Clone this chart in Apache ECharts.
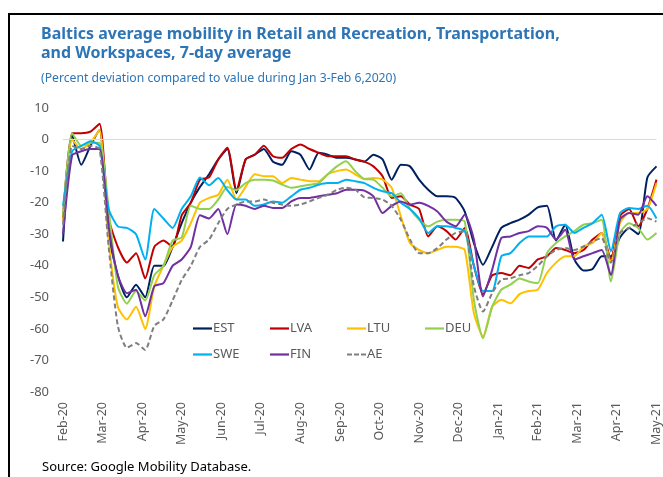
<!DOCTYPE html>
<html lang="en">
<head>
    <meta charset="UTF-8">
    <title>Baltics mobility</title>
	<style>
	html, body { margin: 0; padding: 0; background: #fff; }
	#chart1 { width: 663px; height: 477px; }
	</style>
</head>
<body>
	<div id="chart1"></div>
	<script src="https://cdn.jsdelivr.net/npm/echarts@6/dist/echarts.min.js"></script>
	<script>
	// weekly points, day 0 = 15 Feb 2020, last = 15 May 2021 (day 455)
	var startDate = '2020-02-15';
	var stepDays = 7;
	var monthLabels = ['Feb-20','Mar-20','Apr-20','May-20','Jun-20','Jul-20','Aug-20','Sep-20',
		'Oct-20','Nov-20','Dec-20','Jan-21','Feb-21','Mar-21','Apr-21','May-21'];

	var est = [-32.3,1.5,-8,-2,3,-30,-43,-50,-46,-50,-40,-40,-34,-26.5,-20,-15,-11,-6.3,-3,-17,
		-6.3,-4.8,-3,-7,-8,-3.7,-4.8,-9.5,-4.2,-4.8,-5.8,-5.8,-6.3,-7,-4.8,-6.3,-12.7,-8,-8.5,-12.7,
		-15.9,-18,-18,-18.5,-22.8,-32.8,-39.7,-34,-28,-26.5,-25.4,-23.8,-21.5,-21,-32,-27,-38,-41.5,-41,-37,
		-37,-31,-28,-30,-12,-8.5];
	var lva = [-25,2,2,2.5,5,-25,-34,-39,-36,-44,-34,-32,-34,-24,-20,-12.7,-12,-6.3,-2.6,-16,
		-6.3,-4.8,-2,-5.3,-5.8,-3,-1.6,-3,-4.2,-5.3,-5.3,-5.3,-6.3,-7,-8.5,-11.6,-18.5,-18,-20.6,-22,
		-30.7,-27.5,-29,-31.7,-28,-40,-49,-43,-42.3,-43,-40,-40.7,-38,-37,-34.4,-35,-36,-35,-31.7,-29.6,
		-38,-24.3,-22,-27.5,-22,-12.7];
	var ltu = [-26,0,-3,-1,3,-32,-53,-57,-53,-60,-46.5,-40,-34,-32,-26.5,-20,-18.5,-17.5,-12.7,-19,
		-15,-11,-11.6,-11.6,-13.8,-12.2,-12.7,-13.2,-13.2,-11,-10,-9.5,-11,-12.5,-12.2,-12.7,-15.3,-24.3,-32.8,-35,
		-36,-35,-34,-34,-35,-55,-62.4,-53,-50.8,-51.9,-49,-48,-47.6,-42.3,-39,-37,-37,-33.9,-32.8,-29.6,
		-39,-26.5,-23.3,-23.3,-22,-13.8];
	var deu = [-24,2,-2,-1,-1,-22,-46.5,-52,-48,-51,-43,-40,-32,-31,-21,-22,-22,-19,-15,-16,
		-13.8,-12.7,-12.7,-13,-14.3,-15.3,-14.8,-14.3,-13.8,-11,-8.5,-6.9,-10,-12.5,-12.7,-15.3,-18,-17,-22,-25.4,
		-27.5,-26,-25.4,-25.4,-26,-50.8,-63,-53,-47.6,-46,-44,-45,-45.5,-36,-32.8,-30.7,-29,-27,-26.5,-25.4,
		-45,-29.6,-26.5,-28,-31.7,-29.6];
	var swe = [-21,-3.7,-2,-0.5,-2,-22,-27.5,-28,-30,-38,-22,-25,-28,-22,-18,-12,-14.5,-12.2,-16,-19,
		-19,-21,-20.6,-19.6,-20,-18,-15.9,-15.3,-14.3,-13.8,-13.8,-12.7,-13.2,-13.8,-15.3,-16.4,-17,-20,-22,-25,
		-29.6,-27.5,-27.5,-28,-29,-40,-48,-48,-37,-36,-32.8,-30.7,-30.7,-30.7,-27.5,-27,-29.6,-28,-26.5,-23.8,
		-35.4,-23.3,-21.7,-22,-21,-25];
	var fin = [-30,-5,-3.7,-3,-3,-27.5,-43,-48.7,-47.6,-56,-46.5,-45.5,-40,-38,-34,-24,-25,-22,-30,-20.6,
		-21,-22,-21,-21.7,-21.7,-19.6,-18.5,-18.5,-18,-17.5,-17,-15.9,-15.9,-16.2,-18,-23.3,-21,-19.6,-20.6,-20,
		-21,-22.8,-26,-27.5,-23.8,-31.7,-49.7,-41.3,-31.2,-30.7,-29.6,-29,-27.5,-28,-31.7,-28.6,-38,-37,-36,-35,
		-42.9,-25.4,-23.3,-23.8,-18,-21];
	var ae = [-27,-2,-3,-2,-3,-34,-59,-66,-64.5,-66.7,-59,-57,-51,-44.5,-40,-34,-31.7,-26.5,-22,-20.6,
		-19.6,-19.6,-19,-20,-20.6,-21,-20.6,-19.6,-18.5,-17.5,-15.9,-15.3,-15.9,-18.3,-18.5,-19,-21,-25.4,-31.7,-36,
		-36,-34.4,-31.7,-29.6,-29,-46.5,-54.5,-48.7,-44.4,-44,-43,-42.3,-40,-37,-35,-34.4,-35,-33.9,-32.3,-31.2,
		-39,-29.6,-28,-26.5,-24.9,-26];

	var seriesNames = ['EST','LVA','LTU','DEU','SWE','FIN','AE'];
	var seriesData = [est, lva, ltu, deu, swe, fin, ae];
	var seriesColors = ['#002060','#C00000','#FFC000','#92D050','#00B0F0','#7030A0','#7F7F7F'];

	var totalDays = 455;
	var monthStep = totalDays / (monthLabels.length - 1);

	function toPairs(values)
	{
		return values.map(function (v, i) { return [i * stepDays, v]; });
	}

	var series = seriesNames.map(function (name, i) {
		var s = {
			name: name,
			type: 'line',
			data: toPairs(seriesData[i]),
			symbol: 'none',
			smooth: 0.2,
			lineStyle: { color: seriesColors[i], width: 2, type: name === 'AE' ? [5, 3] : 'solid' },
			itemStyle: { color: seriesColors[i] }
		};
		if (i === 0) {
			s.markLine = {
				silent: true,
				symbol: 'none',
				label: { show: false },
				lineStyle: { color: '#d9d9d9', width: 1, type: 'solid' },
				data: [{ yAxis: 0 }]
			};
		}
		return s;
	});

	// legend laid out like Excel: fixed columns, two rows
	var legendCols = [188, 265, 342, 420];
	var legendRows = [317, 343];
	var dashIcon = 'path://M0,0h5v2h-5z M7,0h5v2h-5z M14,0h5v2h-5z';
	var legends = seriesNames.map(function (name, i) {
		return {
			data: [name],
			left: legendCols[i % 4],
			top: legendRows[Math.floor(i / 4)],
			icon: name === 'AE' ? dashIcon : 'rect',
			itemWidth: 19,
			itemHeight: 2.2,
			textStyle: { color: '#595959', fontSize: 13, fontFamily: 'Noto Sans', padding: [0, 0, 0, -4] }
		};
	});

	var myChart = echarts.init(document.getElementById('chart1'));
	myChart.setOption({
		animation: false,
		title: [
			{
				text: 'Baltics average mobility in Retail and Recreation, Transportation,\nand Workspaces, 7-day average',
				left: 36, top: 20,
				textStyle: { color: '#2E75B6', fontSize: 16, fontWeight: 'bold', fontFamily: 'Noto Sans', lineHeight: 19 }
			},
			{
				text: '(Percent deviation compared to value during Jan 3-Feb 6,2020)',
				left: 36, top: 68,
				textStyle: { color: '#2E75B6', fontSize: 12.2, fontWeight: 'normal', fontFamily: 'Noto Sans' }
			},
			{
				text: 'Source: Google Mobility Database.',
				left: 37, top: 456,
				textStyle: { color: '#000', fontSize: 13, fontWeight: 'normal', fontFamily: 'Noto Sans' }
			}
		],
		legend: legends,
		grid: { left: 63, right: 3, top: 108, bottom: 85 },
		xAxis: {
			type: 'value',
			min: 0,
			max: totalDays,
			interval: monthStep,
			axisLine: { show: false },
			axisTick: { show: false },
			splitLine: { show: false },
			axisLabel: {
				rotate: 90,
				margin: 10,
				color: '#595959',
				fontSize: 12.5,
				fontFamily: 'Noto Sans',
				showMaxLabel: true,
				formatter: function (v) { return monthLabels[Math.round(v / monthStep)] || ''; }
			}
		},
		yAxis: {
			type: 'value',
			min: -80,
			max: 10,
			interval: 10,
			axisLine: { show: false },
			axisTick: { show: false },
			splitLine: { show: false },
			axisLabel: { color: '#595959', fontSize: 13, fontFamily: 'Noto Sans', margin: 14 }
		},
		graphic: [
			{
				type: 'rect',
				silent: true,
				shape: { x: 9, y: 14, width: 720, height: 520 },
				style: { fill: null, stroke: '#000', lineWidth: 2 }
			}
		],
		series: series
	});
	</script>
</body>
</html>
